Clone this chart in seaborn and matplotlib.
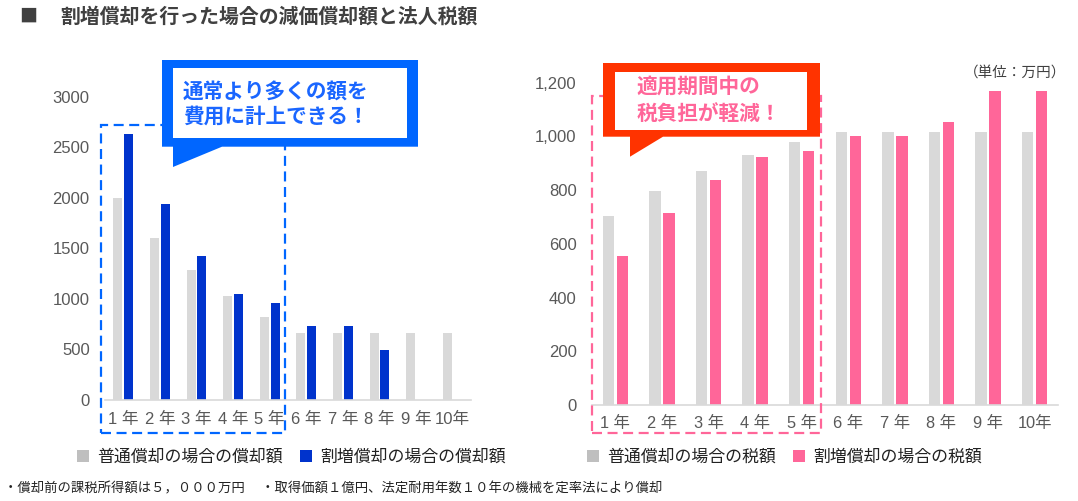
import matplotlib
matplotlib.use("Agg")
import matplotlib.pyplot as plt
import seaborn as sns
import pandas as pd
from matplotlib.patches import Patch, Polygon, Rectangle
from matplotlib.ticker import FuncFormatter

# data (万円)
years_left = ["1 年", "2 年", "3 年", "4 年", "5 年", "6 年", "7 年", "8 年", "9 年", "10年"]
years_right = ["1 年", "2 年", "3 年", "4 年", "5 年", "6 年", "7 年", "8 年", "9 年", "10年"]
normal_dep = [2000, 1600, 1280, 1024, 819, 655, 655, 655, 655, 655]
special_dep = [2632, 1933, 1420, 1043, 960, 725, 725, 487, 0, 0]
normal_tax = [702, 795, 871, 931, 979, 1018, 1018, 1018, 1018, 1018]
special_tax = [555, 715, 838, 923, 946, 1000, 1000, 1054, 1170, 1170]

dep_series = ["普通償却の場合の償却額", "割増償却の場合の償却額"]
tax_series = ["普通償却の場合の税額", "割増償却の場合の税額"]

GRAY = "#D9D9D9"
GRAY_LEG = "#BFBFBF"
BLUE = "#0033CC"
PINK = "#FF6699"
TXT = "#595959"

sns.set_theme(style="white")
plt.rcParams['font.family'] = ['Liberation Sans', 'Noto Sans CJK JP', 'DejaVu Sans']
JP = ['Noto Sans CJK JP', 'DejaVu Sans']

W, H = 1078, 501
def fx(x):
    return x / W
def fy(y):
    return 1 - y / H
def pts(seq):
    return [(fx(x), fy(y)) for x, y in seq]

df_dep = pd.DataFrame({
    "year": years_left * 2,
    "value": normal_dep + special_dep,
    "series": [dep_series[0]] * 10 + [dep_series[1]] * 10,
})
df_tax = pd.DataFrame({
    "year": years_right * 2,
    "value": normal_tax + special_tax,
    "series": [tax_series[0]] * 10 + [tax_series[1]] * 10,
})

fig = plt.figure(figsize=(W / 100, H / 100), dpi=100)
ax1 = fig.add_axes([fx(105), fy(399.5), 366 / W, (399.5 - 96.7) / H])
ax2 = fig.add_axes([fx(592), fy(405), 466 / W, (405 - 82.7) / H])

sns.barplot(data=df_dep, x="year", y="value", hue="series", palette=[GRAY, BLUE],
            width=0.6, gap=0.18, linewidth=0, saturation=1, legend=False, ax=ax1)
sns.barplot(data=df_tax, x="year", y="value", hue="series", palette=[GRAY, PINK],
            width=0.6, gap=0.18, linewidth=0, saturation=1, legend=False, ax=ax2)

ax1.set_ylim(0, 3000)
ax1.set_yticks(range(0, 3001, 500))
ax2.set_ylim(0, 1200)
ax2.set_yticks(range(0, 1201, 200))
ax2.yaxis.set_major_formatter(FuncFormatter(lambda v, p: f"{v:,.0f}"))

for ax, xpad, xsize in ((ax1, 9, 12), (ax2, 8, 11.8)):
    ax.set_xlabel("")
    ax.set_ylabel("")
    ax.set_xlim(-0.5, 9.5)
    for s in ("top", "right", "left"):
        ax.spines[s].set_visible(False)
    ax.spines["bottom"].set_color(GRAY)
    ax.spines["bottom"].set_linewidth(1.2)
    ax.tick_params(axis="x", length=0, pad=xpad, labelsize=xsize, colors=TXT)
    ax.tick_params(axis="y", length=0, pad=11, labelsize=12, colors=TXT)
    ax.grid(False)
    ax.patch.set_alpha(0)

# dashed highlight frames
fig.add_artist(Rectangle((fx(100.7), fy(433)), (285 - 100.7) / W, (433 - 125) / H,
                         transform=fig.transFigure, fill=False, ec="#0066FF",
                         lw=1.6, ls=(0, (4.5, 2.5)), zorder=3))
fig.add_artist(Rectangle((fx(591.7), fy(433)), (821 - 591.7) / W, (433 - 95.7) / H,
                         transform=fig.transFigure, fill=False, ec=PINK,
                         lw=1.6, ls=(0, (4.5, 2.5)), zorder=3))

# callouts
fig.add_artist(Polygon(pts([(162, 60), (418, 60), (418, 146.7), (222, 146.7),
                            (173, 167), (173, 146.7), (162, 146.7)]),
                       closed=True, transform=fig.transFigure, fc="#0066FF", ec="none", zorder=4))
fig.add_artist(Rectangle((fx(172.7), fy(138.3)), (407 - 172.7) / W, (138.3 - 68.3) / H,
                         transform=fig.transFigure, fc="white", ec="none", zorder=5))
fig.text(fx(183), fy(92.5), "通常より多くの額を", family=JP, fontsize=14.9, weight="bold",
         color="#1A66FF", va="center", ha="left", zorder=6)
fig.text(fx(183), fy(116.5), "費用に計上できる！", family=JP, fontsize=14.9, weight="bold",
         color="#1A66FF", va="center", ha="left", zorder=6)

fig.add_artist(Polygon(pts([(603, 63), (820, 63), (820, 136.7), (663, 136.7),
                            (630, 156.7), (630, 136.7), (603, 136.7)]),
                       closed=True, transform=fig.transFigure, fc="#FF3300", ec="none", zorder=4))
fig.add_artist(Rectangle((fx(615), fy(130)), (807 - 615) / W, (130 - 71.7) / H,
                         transform=fig.transFigure, fc="white", ec="none", zorder=5))
fig.text(fx(636.5), fy(86.5), "適用期間中の", family=JP, fontsize=14.9, weight="bold",
         color=PINK, va="center", ha="left", zorder=6)
fig.text(fx(636.5), fy(113), "税負担が軽減！", family=JP, fontsize=14.9, weight="bold",
         color=PINK, va="center", ha="left", zorder=6)

# title, unit, footnote
fig.text(fx(19), fy(16), "■", family=JP, fontsize=13, weight="bold", color="#404040",
         va="center", ha="left")
fig.text(fx(60), fy(16), "割増償却を行った場合の減価償却額と法人税額", family=JP, fontsize=14.3,
         weight="bold", color="#404040", va="center", ha="left")
fig.text(fx(1066), fy(73), "（単位：万円）", family=JP, fontsize=10.5, color="#404040",
         va="center", ha="right")
fig.text(fx(4), fy(488), "・償却前の課税所得額は５，０００万円　 ・取得価額１億円、法定耐用年数１０年の機械を定率法により償却",
         family=JP, fontsize=9.6, color="#222222", va="center", ha="left")

# legends
h1 = [Patch(fc=GRAY_LEG, ec="none"), Patch(fc=BLUE, ec="none")]
h2 = [Patch(fc=GRAY_LEG, ec="none"), Patch(fc=PINK, ec="none")]
leg_kw = dict(ncol=2, frameon=False, borderpad=0, borderaxespad=0, handlelength=0.72,
              handleheight=0.72, handletextpad=0.5, columnspacing=1.0,
              prop={"family": JP, "size": 12.2}, labelcolor="#222222", loc="center left")
fig.legend(h1, dep_series, bbox_to_anchor=(fx(76.5), fy(456.5)), **leg_kw)
fig.legend(h2, tax_series, bbox_to_anchor=(fx(586.5), fy(456.5)), **leg_kw)

fig.savefig("out.png", dpi=100)
